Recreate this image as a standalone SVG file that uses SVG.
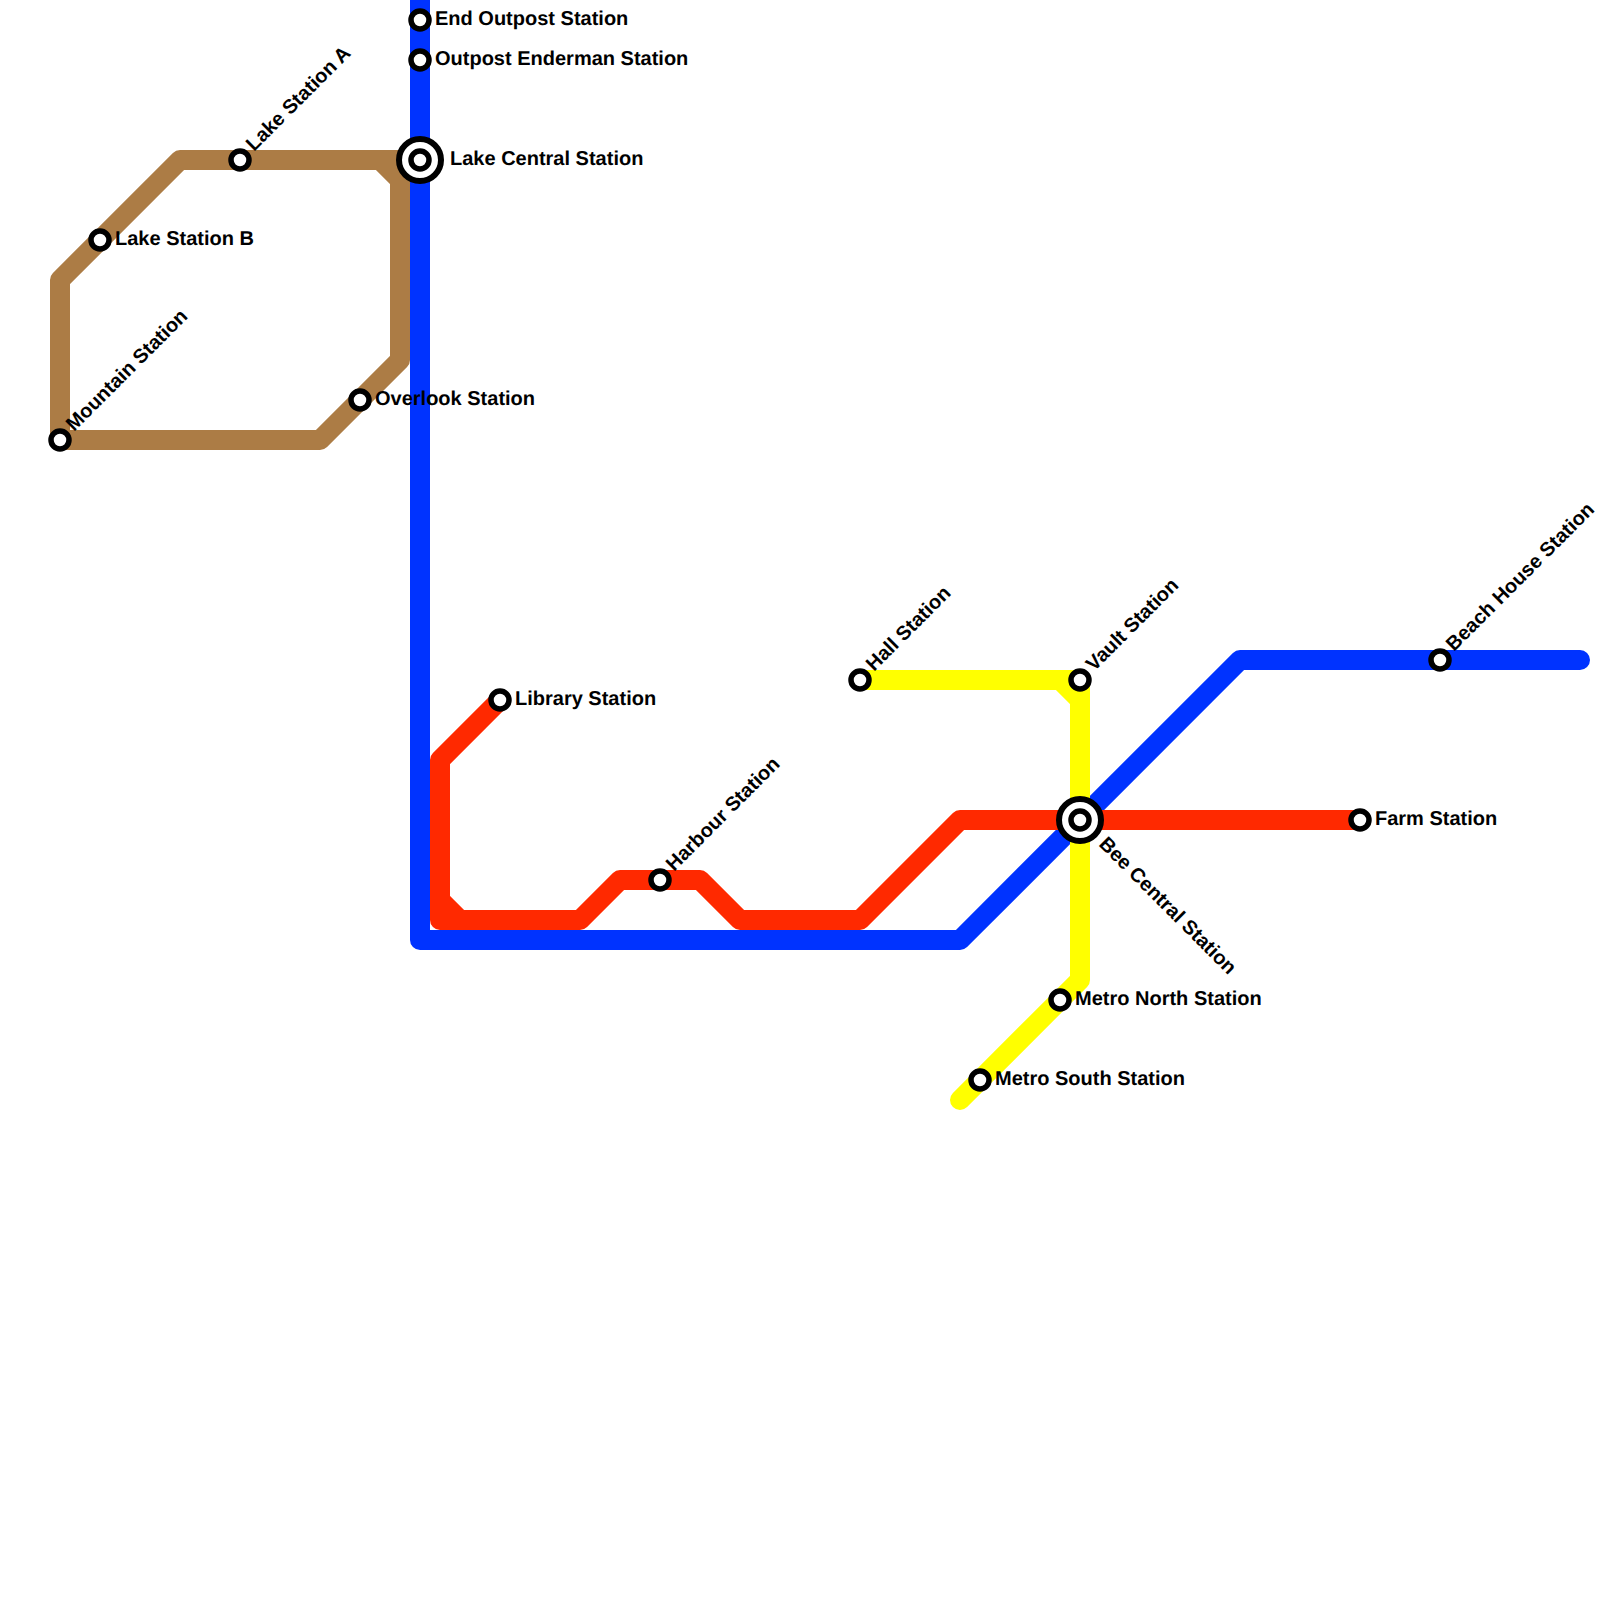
<svg xmlns="http://www.w3.org/2000/svg" width="1600" height="1600" viewBox="0 0 1600 1600">
<style>
.line{fill:none;stroke-width:20;stroke-linecap:round;stroke-linejoin:round}
.brown{stroke:#ac7c45}.blue{stroke:#0033ff}.red{stroke:#ff2900}.yellow{stroke:#ffff00}
.st{fill:#fff;stroke:#000;stroke-width:5.5}
.ring{fill:#fff;stroke:#000;stroke-width:6}
text{font-family:"Liberation Sans",Arial,sans-serif;font-size:20px;font-weight:700;fill:#000;text-rendering:geometricPrecision}
</style>
<rect width="1600" height="1600" fill="#fff"/>
<g id="connectors">
<path class="line brown" d="M420,160H180L60,280V440H320L400,360V180L380,160"/>
<path class="line blue" d="M420,-20V940H960L1240,660H1580"/>
<path class="line red" d="M500,700L440,760V920H580L620,880H700L740,920H860L960,820H1360M440,900L460,920"/>
<path class="line yellow" d="M860,680H1060L1080,700V980L960,1100M1060,680H1080V700"/>
</g>
<g id="end-outpost"><circle class="st" cx="420" cy="20" r="9"/><text x="435" y="25">End Outpost Station</text></g>
<g id="outpost-enderman"><circle class="st" cx="420" cy="60" r="9"/><text x="435" y="65">Outpost Enderman Station</text></g>
<g id="lake-central"><circle class="ring" cx="420" cy="160" r="21"/><circle class="st" cx="420" cy="160" r="9"/><text x="450" y="165">Lake Central Station</text></g>
<g id="lake-a"><circle class="st" cx="240" cy="160" r="9"/><text transform="translate(254,152) rotate(-45)">Lake Station A</text></g>
<g id="lake-b"><circle class="st" cx="100" cy="240" r="9"/><text x="115" y="245">Lake Station B</text></g>
<g id="mountain"><circle class="st" cx="60" cy="440" r="9"/><text transform="translate(74,432) rotate(-45)">Mountain Station</text></g>
<g id="overlook"><circle class="st" cx="360" cy="400" r="9"/><text x="375" y="405">Overlook Station</text></g>
<g id="library"><circle class="st" cx="500" cy="700" r="9"/><text x="515" y="705">Library Station</text></g>
<g id="harbour"><circle class="st" cx="660" cy="880" r="9"/><text transform="translate(674,872) rotate(-45)">Harbour Station</text></g>
<g id="hall"><circle class="st" cx="860" cy="680" r="9"/><text transform="translate(874,672) rotate(-45)">Hall Station</text></g>
<g id="vault"><circle class="st" cx="1080" cy="680" r="9"/><text transform="translate(1094,672) rotate(-45)">Vault Station</text></g>
<g id="bee-central"><circle class="ring" cx="1080" cy="820" r="21"/><circle class="st" cx="1080" cy="820" r="9"/><text transform="translate(1098,845) rotate(45)">Bee Central Station</text></g>
<g id="farm"><circle class="st" cx="1360" cy="820" r="9"/><text x="1375" y="825">Farm Station</text></g>
<g id="beach-house"><circle class="st" cx="1440" cy="660" r="9"/><text transform="translate(1454,652) rotate(-45)">Beach House Station</text></g>
<g id="metro-north"><circle class="st" cx="1060" cy="1000" r="9"/><text x="1075" y="1005">Metro North Station</text></g>
<g id="metro-south"><circle class="st" cx="980" cy="1080" r="9"/><text x="995" y="1085">Metro South Station</text></g>
</svg>
